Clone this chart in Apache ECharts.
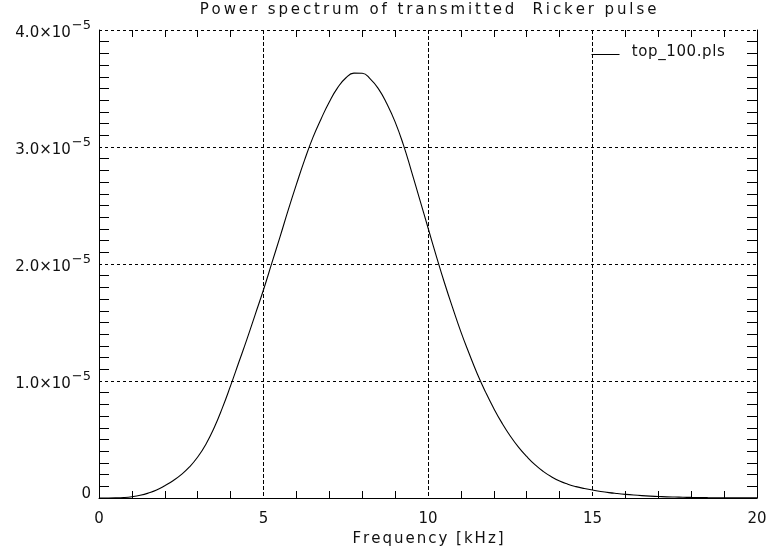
<!DOCTYPE html>
<html>
<head>
<meta charset="utf-8">
<script src="https://cdn.jsdelivr.net/npm/echarts@6/dist/echarts.min.js"></script>
<style>
  html, body { margin: 0; padding: 0; background: #ffffff; }
  #chart { width: 771px; height: 553px; }
</style>
</head>
<body>
<div id="chart"></div>
<script>
// Text
const titleText = 'Power spectrum of transmitted  Ricker pulse';
const xAxisName = 'Frequency [kHz]';
const seriesName = 'top_100.pls';

// Axis ranges (power is expressed in units of 10^-5)
const xRange = [0, 20];
const xStep = 5;
const yRange = [0, 4];
const yStep = 1;
const yExponent = '\u22125';

// Spectrum samples every 0.25 kHz: frequency in kHz, power in units of 1e-5
const frequency = [
  0, 0.25, 0.5, 0.75, 1, 1.25, 1.5, 1.75, 2, 2.25, 2.5, 2.75,
  3, 3.25, 3.5, 3.75, 4, 4.25, 4.5, 4.75, 5, 5.25, 5.5, 5.75,
  6, 6.25, 6.5, 6.75, 7, 7.25, 7.5, 7.75, 8, 8.25, 8.5, 8.75,
  9, 9.25, 9.5, 9.75, 10, 10.25, 10.5, 10.75, 11, 11.25, 11.5, 11.75,
  12, 12.25, 12.5, 12.75, 13, 13.25, 13.5, 13.75, 14, 14.25, 14.5, 14.75,
  15, 15.25, 15.5, 15.75, 16, 16.25, 16.5, 16.75, 17, 17.25, 17.5, 17.75,
  18, 18.25, 18.5, 18.75, 19, 19.25, 19.5, 19.75, 20
];
const power = [
  0, 0.0001, 0.001, 0.004, 0.011, 0.023, 0.042, 0.068, 0.105, 0.148, 0.20, 0.265,
  0.35, 0.46, 0.60, 0.77, 0.96, 1.16, 1.36, 1.57, 1.78, 2.005, 2.23, 2.46,
  2.68, 2.89, 3.08, 3.24, 3.385, 3.505, 3.59, 3.631, 3.630, 3.58, 3.495, 3.37,
  3.215, 3.02, 2.79, 2.55, 2.31, 2.07, 1.84, 1.625, 1.42, 1.235, 1.06, 0.905,
  0.765, 0.64, 0.53, 0.435, 0.355, 0.285, 0.228, 0.182, 0.145, 0.118, 0.097, 0.081,
  0.068, 0.056, 0.046, 0.038, 0.031, 0.025, 0.020, 0.016, 0.013, 0.010, 0.008, 0.0065,
  0.005, 0.004, 0.003, 0.0025, 0.002, 0.0016, 0.0013, 0.001, 0.0008
];

const FONT = 'DejaVu Sans';
const INK = '#111111';

// Wrap every character in its own rich token so it can carry side padding (wide lettering)
function spaced(str, style) {
  return str.split('').map(function (c) { return '{' + style + '|' + c + '}'; }).join('');
}

const chart = echarts.init(document.getElementById('chart'), null, { renderer: 'canvas' });

const minorX = { show: true, splitNumber: 5, length: 7, lineStyle: { color: '#000', width: 1 } };
const minorY = { show: true, splitNumber: 10, length: 10, lineStyle: { color: '#000', width: 1 } };

const option = {
  backgroundColor: '#ffffff',
  animation: false,
  textStyle: { fontFamily: FONT, color: INK },
  title: {
    text: spaced(titleText, 't'),
    left: 428,
    top: 3,
    padding: 0,
    textAlign: 'center',
    textStyle: {
      fontWeight: 'normal',
      rich: { t: { fontFamily: FONT, fontSize: 15, fontWeight: 'normal', color: INK, padding: [0, 1.45] } }
    }
  },
  legend: {
    left: 591,
    top: 45,
    padding: 0,
    itemWidth: 28,
    itemHeight: 20,
    data: [{ name: seriesName }],
    itemStyle: { opacity: 0, borderWidth: 0 },
    lineStyle: { color: '#000', width: 1 },
    formatter: function (n) { return '{g| }' + spaced(n, 'l'); },
    textStyle: {
      rich: {
        g: { width: 7, fontSize: 15, padding: [0, 0, 4, 0] },
        l: { fontFamily: FONT, fontSize: 15, color: INK, padding: [0, 0.3, 4, 0.3] }
      }
    }
  },
  grid: { left: 99, right: 14, top: 30, bottom: 55, containLabel: false, outerBoundsMode: 'none' },
  xAxis: [
    {
      type: 'value', position: 'bottom',
      min: xRange[0], max: xRange[1], interval: xStep,
      axisLine: { show: true, onZero: false, lineStyle: { color: '#000', width: 1 } },
      axisTick: { show: false, inside: true, length: 7 },
      minorTick: minorX,
      axisLabel: { margin: 14, fontSize: 15, color: INK, fontFamily: FONT },
      splitLine: { show: true, showMinLine: false, showMaxLine: false,
                   lineStyle: { color: '#000', width: 1, type: [4, 2] } },
      name: spaced(xAxisName, 'n'),
      nameLocation: 'middle',
      nameGap: 34,
      nameTextStyle: {
        rich: { n: { fontFamily: FONT, fontSize: 15, color: INK, padding: [0, 1.0] } }
      }
    },
    {
      type: 'value', position: 'top',
      min: xRange[0], max: xRange[1], interval: xStep,
      axisLine: { show: false, onZero: false },
      axisTick: { show: false, inside: true, length: 7 },
      minorTick: minorX,
      axisLabel: { show: false },
      splitLine: { show: false }
    }
  ],
  yAxis: [
    {
      type: 'value', position: 'left',
      min: yRange[0], max: yRange[1], interval: yStep,
      axisLine: { show: true, onZero: false, lineStyle: { color: '#000', width: 1 } },
      axisTick: { show: false, inside: true, length: 10 },
      minorTick: minorY,
      axisLabel: {
        margin: 8,
        formatter: function (v) {
          if (v === 0) return '{z|0}';
          return '{m|' + v.toFixed(1) + '\u00d710}{s|' + yExponent + '}';
        },
        rich: {
          z: { fontFamily: FONT, fontSize: 15, color: INK, padding: [0, 0, 8, 0] },
          m: { fontFamily: FONT, fontSize: 15, color: INK, padding: [6, 0, 0, 0] },
          s: { fontFamily: FONT, fontSize: 13, color: INK, padding: [0, 0, 0, 1], verticalAlign: 'top' }
        }
      },
      splitLine: { show: true, showMinLine: false,
                   lineStyle: { color: '#000', width: 1, type: [3, 3] } }
    },
    {
      type: 'value', position: 'right',
      min: yRange[0], max: yRange[1], interval: yStep,
      axisLine: { show: true, onZero: false, lineStyle: { color: '#000', width: 1 } },
      axisTick: { show: false, inside: true, length: 10 },
      minorTick: minorY,
      axisLabel: { show: false },
      splitLine: { show: false }
    }
  ],
  series: [
    {
      name: seriesName,
      type: 'line',
      xAxisIndex: 0,
      yAxisIndex: 0,
      data: frequency.map(function (f, i) { return [f, power[i]]; }),
      symbol: 'none',
      smooth: 0.5,
      color: '#000',
      lineStyle: { color: '#000', width: 1.1 },
      z: 5
    }
  ]
};

chart.setOption(option);
</script>
</body>
</html>
